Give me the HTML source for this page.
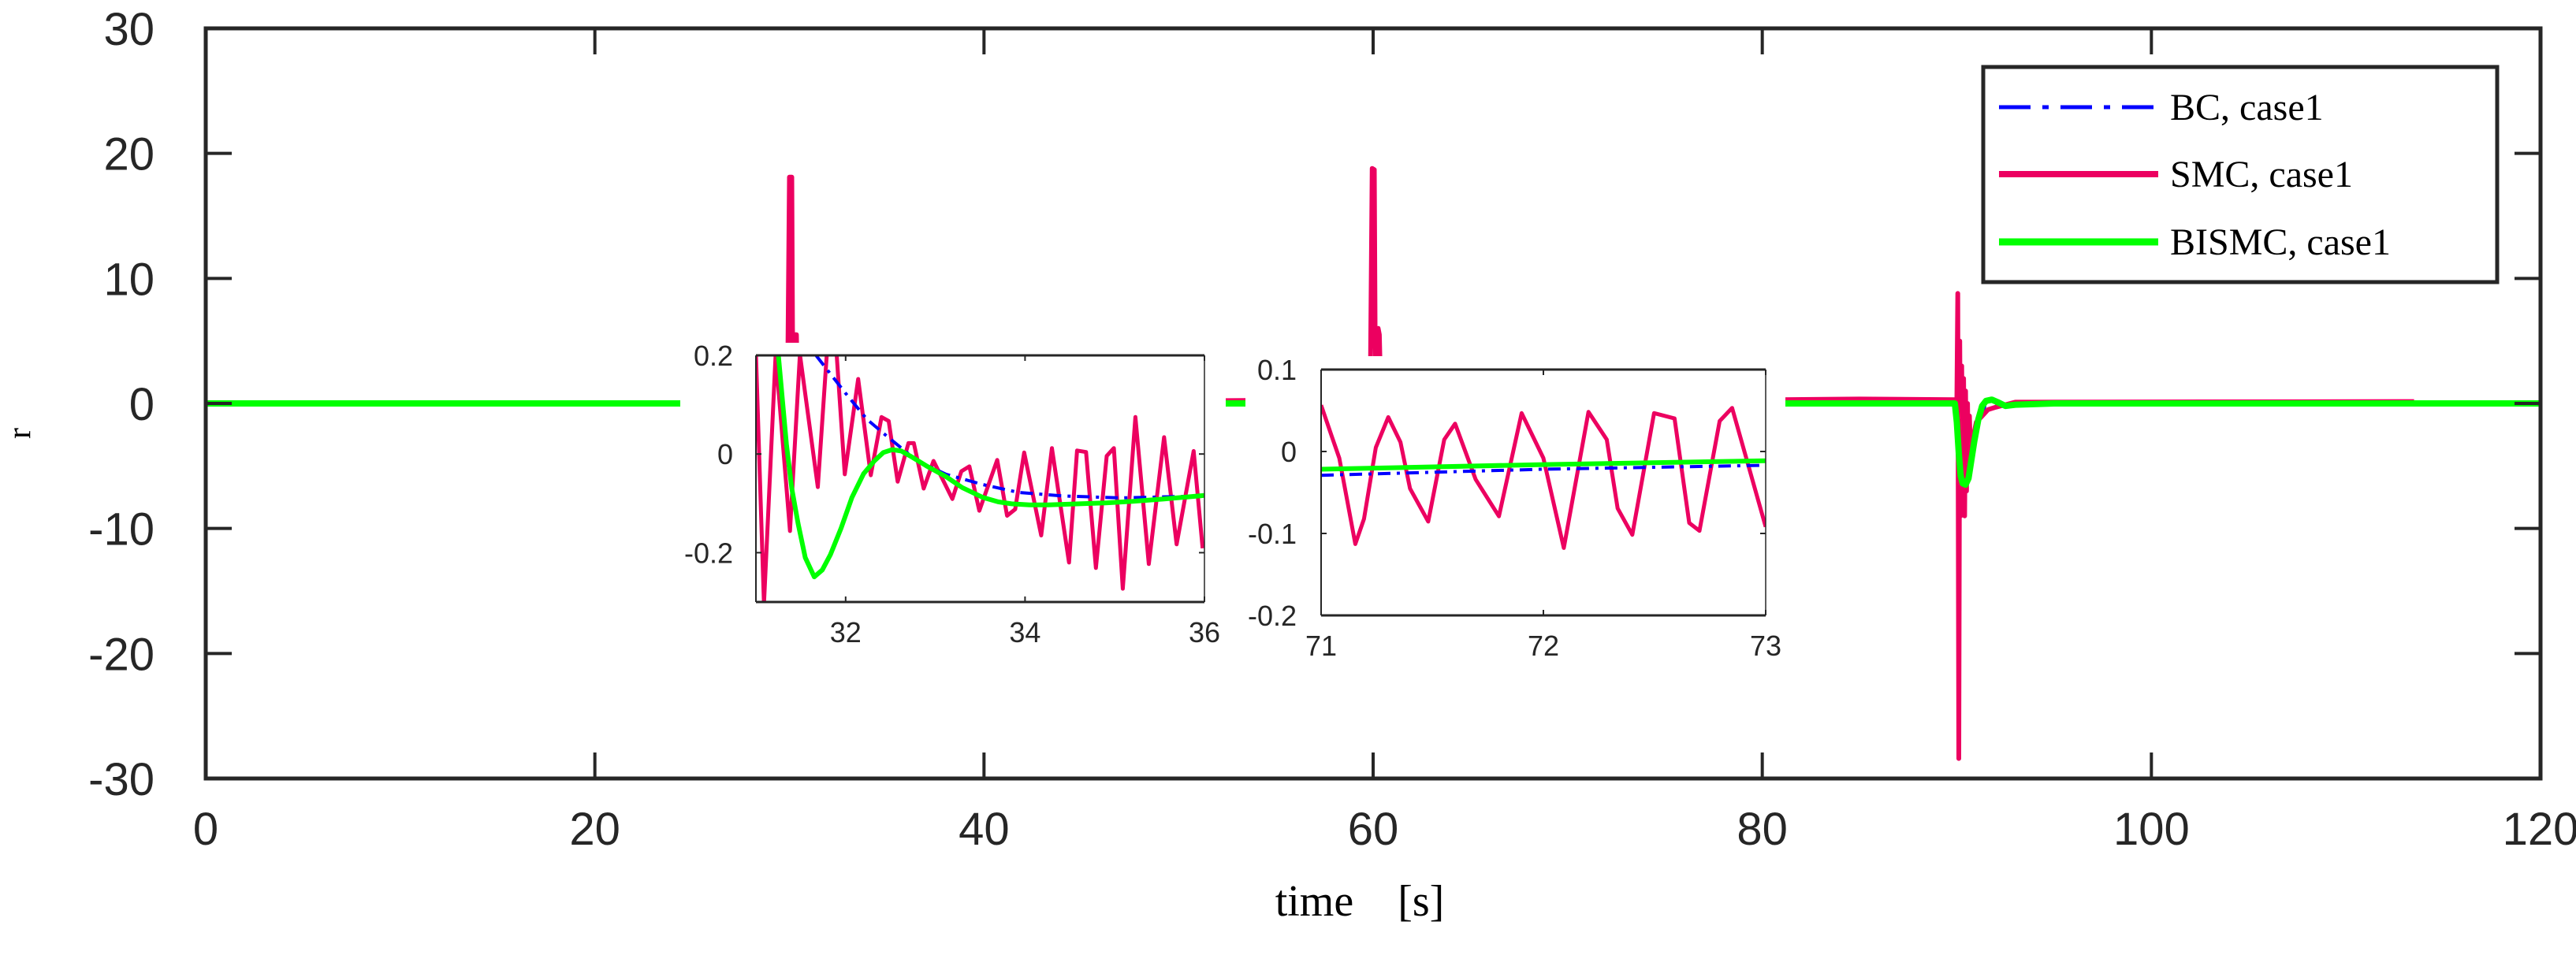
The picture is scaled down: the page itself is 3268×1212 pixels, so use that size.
<!DOCTYPE html>
<html><head><meta charset="utf-8"><style>
html,body{margin:0;padding:0;background:#fff;}
svg{display:block;}
text{fill:#262626;}
.tk{font-family:"Liberation Sans",sans-serif;}
.sf{font-family:"Liberation Serif",serif;fill:#000;}
</style></head><body>
<svg id="chart" width="3268" height="1212" viewBox="0 0 3268 1212" xmlns="http://www.w3.org/2000/svg">
<defs>
<clipPath id="cm"><rect x="261" y="36" width="2962" height="952"/></clipPath>
<clipPath id="c1"><rect x="959" y="451" width="569" height="313"/></clipPath>
<clipPath id="c2"><rect x="1676" y="469" width="564" height="312"/></clipPath>
</defs>
<g id="main-lines" clip-path="url(#cm)"></g>
<rect x="863" y="435" width="692" height="420" fill="#fff"/>
<rect x="1580" y="452" width="685" height="420" fill="#fff"/>
<g id="inset1"></g>
<g id="inset2"></g>
<g id="axes"></g>
<text class="sf" font-size="42" transform="translate(38,550) rotate(-90)" text-anchor="middle">r</text>
<text class="sf" font-size="56" x="1725" y="1162" text-anchor="middle" xml:space="preserve">time    [s]</text>
<g>
<rect x="2516" y="85" width="652" height="273" fill="#fff" stroke="#262626" stroke-width="5"/>
<line x1="2536" y1="136" x2="2738" y2="136" stroke="#0000ff" stroke-width="5" stroke-dasharray="40,15,8,15"/>
<text class="sf" font-size="48" x="2753" y="152">BC, case1</text>
<line x1="2536" y1="221" x2="2738" y2="221" stroke="#ec0060" stroke-width="8"/>
<text class="sf" font-size="48" x="2753" y="237">SMC, case1</text>
<line x1="2536" y1="307" x2="2738" y2="307" stroke="#00ff00" stroke-width="9"/>
<text class="sf" font-size="48" x="2753" y="323">BISMC, case1</text>
</g>
</svg>
<script>
// ---- main chart data ----
const xTicks = [0,20,40,60,80,100,120];
const yTicks = [-30,-20,-10,0,10,20,30];
const smcT = [0,29.9,30.0,30.12,30.16,30.22,30.3,30.36,30.42,59.85,59.95,60.06,60.1,60.16,60.26,60.32,60.4,81,85,89.9,90.0,90.05,90.1,90.15,90.2,90.25,90.3,90.35,90.4,90.45,90.5,90.55,90.6,90.65,90.7,90.8,91.0,91.3,91.6,92.0,93,113.5];
const smcV = [0,0,18.1,18.1,6,0,5.5,5.5,0,0.3,18.8,18.7,6,0,6,5.5,0,0.3,0.35,0.3,0,8.8,-28.4,5,-9,3,-8,2,-9,1,-7,0,-6,-1,-4,-3,-1.5,-1,-0.5,-0.3,0.1,0.15];
const bcT = [0,89.9,90.1,90.5,91.0,91.5,92,120];
const bcV = [0,0,-3,-5,-2,0,0,0];
const bisT = [0,89.9,90.0,90.1,90.2,90.3,90.45,90.6,90.75,90.9,91.1,91.3,91.5,91.8,92.1,92.5,93,95,120];
const bisV = [0,0,-1.5,-4,-5.8,-6.4,-6.5,-6,-4.5,-3,-1.3,-0.2,0.2,0.3,0.1,-0.2,-0.1,0,0];
// ---- inset 1 data ----
const in1XTicks = [32,34,36];
const in1YTicks = [-0.2,0,0.2];
const in1SmcT = [31.00,31.09,31.22,31.38,31.49,31.69,31.79,31.90,31.99,32.14,32.28,32.40,32.48,32.58,32.70,32.76,32.87,32.98,33.19,33.29,33.38,33.49,33.69,33.80,33.89,33.99,34.18,34.30,34.49,34.58,34.68,34.79,34.91,34.99,35.09,35.23,35.38,35.55,35.69,35.88,35.98];
const in1SmcV = [0.202,-0.304,0.202,-0.156,0.202,-0.067,0.202,0.202,-0.041,0.152,-0.043,0.075,0.067,-0.056,0.022,0.022,-0.070,-0.014,-0.091,-0.035,-0.025,-0.115,-0.012,-0.125,-0.112,0.003,-0.165,0.012,-0.220,0.007,0.004,-0.231,-0.004,0.012,-0.273,0.075,-0.223,0.034,-0.183,0.006,-0.191];
const in1BcT = [31.67,32.0,32.24,32.48,32.8,33.12,33.53,33.93,34.42,35.07,36.0];
const in1BcV = [0.2,0.123,0.07,0.033,-0.014,-0.041,-0.062,-0.078,-0.085,-0.089,-0.085];
const in1BisT = [31.2,31.25,31.34,31.4,31.47,31.55,31.65,31.74,31.83,31.95,32.07,32.2,32.32,32.42,32.52,32.62,32.72,32.9,33.12,33.3,33.53,33.7,33.85,34.05,34.26,34.6,34.9,35.2,35.55,36.0];
const in1BisV = [0.25,0.2,0.02,-0.07,-0.141,-0.21,-0.249,-0.235,-0.204,-0.15,-0.088,-0.04,-0.014,0.003,0.009,0.006,-0.004,-0.024,-0.046,-0.068,-0.088,-0.097,-0.101,-0.103,-0.103,-0.101,-0.099,-0.096,-0.091,-0.084];
// ---- inset 2 data ----
const in2XTicks = [71,72,73];
const in2YTicks = [-0.2,-0.1,0,0.1];
const in2SmcT = [71.000,71.049,71.082,71.154,71.193,71.246,71.302,71.357,71.400,71.482,71.554,71.603,71.695,71.800,71.902,72.000,72.092,72.203,72.285,72.334,72.400,72.498,72.590,72.656,72.702,72.793,72.849,73.000];
const in2SmcV = [0.0565,0.0177,-0.0081,-0.1129,-0.0823,0.0048,0.0419,0.0113,-0.0452,-0.0855,0.0145,0.0339,-0.0339,-0.0790,0.0468,-0.0081,-0.1177,0.0484,0.0145,-0.0694,-0.1016,0.0468,0.0403,-0.0871,-0.0968,0.0371,0.0532,-0.0919];
const in2BcT = [71,72,73];
const in2BcV = [-0.029,-0.0216,-0.0168];
const in2BisT = [71,72,73];
const in2BisV = [-0.0216,-0.016,-0.0113];

const NS='http://www.w3.org/2000/svg';
function mk(tag, parent, attrs){const e=document.createElementNS(NS,tag);for(const k in attrs)e.setAttribute(k,attrs[k]);parent.appendChild(e);return e;}
function scale(d0,d1,r0,r1){return v=>r0+(v-d0)*(r1-r0)/(d1-d0);}
function poly(parent, xs, ys, T, V, color, w, dash, name){
  const pts=T.map((t,i)=>xs(t).toFixed(1)+','+ys(V[i]).toFixed(1)).join(' ');
  const p=mk('polyline',parent,{points:pts,fill:'none',stroke:color,'stroke-width':w,'stroke-linejoin':'round'});
  if(dash)p.setAttribute('stroke-dasharray',dash);
  
  
}
// main
const X=scale(0,120,261,3223), Y=scale(-30,30,988,36);
const ml=document.getElementById('main-lines');
poly(ml,X,Y,bcT,bcV,'#0000ff',4,'40,15,8,15','bc-line');
poly(ml,X,Y,smcT,smcV,'#ec0060',6,null,'smc-line');
poly(ml,X,Y,bisT,bisV,'#00ff00',8,null,'bismc-line');
const ax=document.getElementById('axes');
const fr=mk('rect',ax,{x:261,y:36,width:2962,height:952,fill:'none',stroke:'#262626','stroke-width':5});


xTicks.forEach(t=>{
  const x=X(t);
  mk('line',ax,{x1:x,y1:988,x2:x,y2:955,stroke:'#262626','stroke-width':4});
  mk('line',ax,{x1:x,y1:36,x2:x,y2:69,stroke:'#262626','stroke-width':4});
  const tx=mk('text',ax,{x:x,y:1072,'text-anchor':'middle','font-size':58,class:'tk'});
  tx.textContent=t;
  
  
});
yTicks.forEach(v=>{
  const y=Y(v);
  mk('line',ax,{x1:261,y1:y,x2:294,y2:y,stroke:'#262626','stroke-width':4});
  mk('line',ax,{x1:3223,y1:y,x2:3190,y2:y,stroke:'#262626','stroke-width':4});
  const tx=mk('text',ax,{x:196,y:y+21,'text-anchor':'end','font-size':58,class:'tk'});
  tx.textContent=v;
  
  
});
// insets
function inset(g, clip, x0,x1,y0,y1, px0,px1,py0,py1, xt, yt, smcT_,smcV_,bcT_,bcV_,bisT_,bisV_, xLabY, yLabX){
  const xs=scale(x0,x1,px0,px1), ys=scale(y0,y1,py0,py1);
  const lg=mk('g',g,{'clip-path':'url(#'+clip+')'});
  poly(lg,xs,ys,smcT_,smcV_,'#ec0060',5,null,'inset-smc-line');
  poly(lg,xs,ys,bcT_,bcV_,'#0000ff',4,'16,8,4,8','inset-bc-line');
  poly(lg,xs,ys,bisT_,bisV_,'#00ff00',6,null,'inset-bismc-line');
  mk('line',g,{x1:px0,y1:py1,x2:px1,y2:py1,stroke:'#262626','stroke-width':3});
  mk('line',g,{x1:px0,y1:py0,x2:px1,y2:py0,stroke:'#262626','stroke-width':3});
  mk('line',g,{x1:px0,y1:py0,x2:px0,y2:py1,stroke:'#262626','stroke-width':2});
  mk('line',g,{x1:px1,y1:py0,x2:px1,y2:py1,stroke:'#262626','stroke-width':1.5});
  xt.forEach(t=>{
    const x=xs(t);
    mk('line',g,{x1:x,y1:py0,x2:x,y2:py0-7,stroke:'#262626','stroke-width':2});
    mk('line',g,{x1:x,y1:py1,x2:x,y2:py1+7,stroke:'#262626','stroke-width':2});
    const tx=mk('text',g,{x:x,y:xLabY,'text-anchor':'middle','font-size':36,class:'tk'});
    tx.textContent=t;
    
    
  });
  yt.forEach(v=>{
    const y=ys(v);
    mk('line',g,{x1:px0,y1:y,x2:px0+7,y2:y,stroke:'#262626','stroke-width':2});
    mk('line',g,{x1:px1,y1:y,x2:px1-7,y2:y,stroke:'#262626','stroke-width':2});
    const tx=mk('text',g,{x:yLabX,y:y+13,'text-anchor':'end','font-size':36,class:'tk'});
    tx.textContent=v;
    
    
  });
}
inset(document.getElementById('inset1'),'c1',31,36,-0.3,0.2,959,1528,764,451,in1XTicks,in1YTicks,in1SmcT,in1SmcV,in1BcT,in1BcV,in1BisT,in1BisV,815,930);
inset(document.getElementById('inset2'),'c2',71,73,-0.2,0.1,1676,2240,781,469,in2XTicks,in2YTicks,in2SmcT,in2SmcV,in2BcT,in2BcV,in2BisT,in2BisV,832,1645);
</script>
</body></html>
